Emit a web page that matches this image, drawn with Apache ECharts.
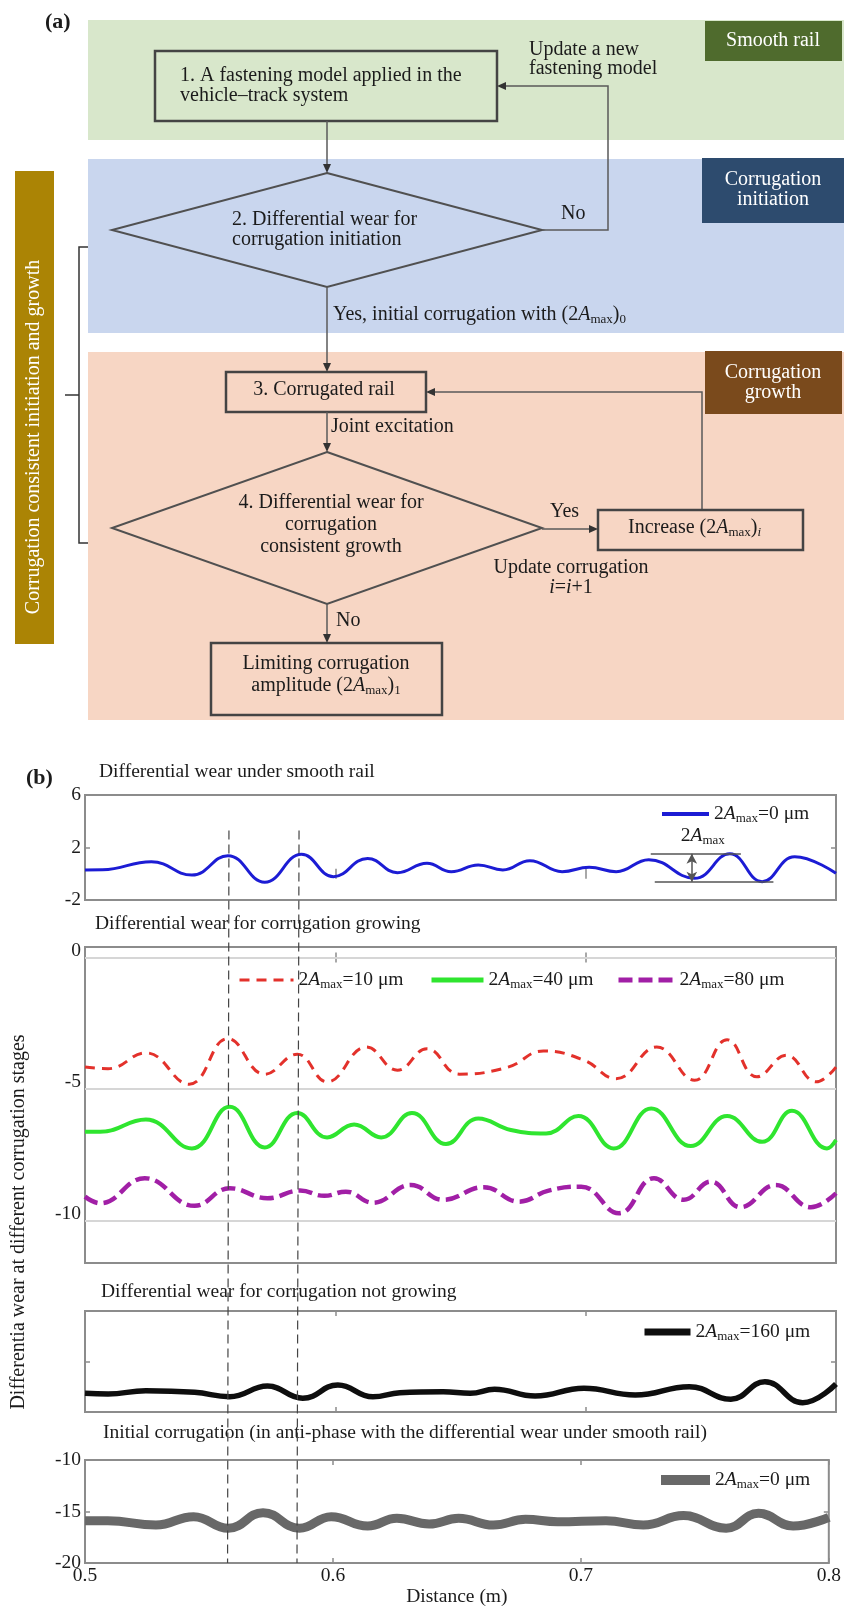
<!DOCTYPE html>
<html><head><meta charset="utf-8">
<script src="https://cdn.jsdelivr.net/npm/echarts@6/dist/echarts.min.js"></script>
<style>html,body{margin:0;padding:0;background:#fff}#c{width:844px;height:1610px}</style>
</head><body><div id="c"></div>
<script>
// ---------------- DATA ----------------
const xTicks = [0.5, 0.6, 0.7, 0.8];
const xTickLabels = ['0.5', '0.6', '0.7', '0.8'];
const y1Ticks = [-2, 2, 6];
const y1TickLabels = ['-2', '2', '6'];
const y2Ticks = [-10, -5, 0];
const y2TickLabels = ['-10', '-5', '0'];
const y3Ticks = [-15];
const y4Ticks = [-20, -15, -10];
const y4TickLabels = ['-20', '-15', '-10'];
const dashX = [0.5575, 0.5855];

const smoothX = [0.500,0.507,0.5265,0.5427,0.5571,0.5718,0.5865,0.5993,0.6129,0.6248,0.6366,0.6463,0.6571,0.6669,0.6777,0.6906,0.7014,0.7122,0.7252,0.7435,0.7576,0.7705,0.7835,0.800];
const smoothY = [0.29,0.30,0.92,-0.10,1.38,-0.65,1.48,-0.22,1.17,0.08,0.80,0.16,0.67,0.29,1.00,0.16,0.49,0.16,1.07,-0.35,1.52,-0.60,1.30,0.03];

const red10X = [0.500,0.5092,0.5243,0.5416,0.5571,0.5718,0.5848,0.5967,0.6124,0.6248,0.6366,0.6496,0.6690,0.6831,0.6993,0.7122,0.7284,0.7435,0.7565,0.7684,0.7802,0.7921,0.800];
const red10Y = [-4.16,-4.22,-3.62,-4.81,-3.08,-4.43,-3.67,-4.72,-3.40,-4.28,-3.46,-4.43,-4.16,-3.55,-3.90,-4.60,-3.40,-4.66,-3.12,-4.53,-3.71,-4.72,-4.16];

const green40X = [0.500,0.506,0.5243,0.5427,0.5578,0.5718,0.5848,0.5967,0.6075,0.6183,0.6306,0.6442,0.6571,0.6701,0.6842,0.6971,0.7112,0.7262,0.7420,0.7565,0.7705,0.7824,0.7964,0.800];
const green40Y = [-6.62,-6.62,-6.15,-7.25,-5.67,-7.21,-5.90,-6.83,-6.34,-6.83,-5.90,-7.08,-6.11,-6.55,-6.68,-6.02,-7.25,-5.73,-7.16,-6.02,-7.00,-5.82,-7.25,-6.93];

const purple80X = [0.500,0.506,0.5239,0.5438,0.5578,0.5729,0.5859,0.5956,0.6042,0.6150,0.6302,0.6431,0.6593,0.6734,0.6852,0.6982,0.7133,0.7273,0.7392,0.7500,0.7619,0.7759,0.7900,0.800];
const purple80Y = [-9.08,-9.33,-8.38,-9.43,-8.76,-9.14,-8.85,-9.05,-8.89,-9.31,-8.64,-9.20,-8.72,-9.27,-8.85,-8.70,-9.71,-8.38,-9.20,-8.51,-9.48,-8.64,-9.48,-8.95];

const black160X = [0.500,0.5092,0.5243,0.5438,0.5578,0.5729,0.5870,0.6010,0.6150,0.6258,0.6431,0.6539,0.6636,0.6798,0.6993,0.7198,0.7414,0.7580,0.7716,0.7867,0.800];
const black160Y = [-18.15,-18.22,-17.89,-18.05,-18.49,-17.43,-18.64,-17.33,-18.49,-18.09,-17.99,-18.15,-17.75,-18.42,-17.65,-18.32,-17.49,-18.74,-17.00,-19.08,-17.23];

const init0X = [0.500,0.5092,0.5286,0.5438,0.5578,0.5718,0.5865,0.5993,0.6140,0.6258,0.6388,0.6507,0.6647,0.6777,0.6906,0.7101,0.7252,0.7414,0.7586,0.7716,0.7856,0.800];
const init0Y = [-15.89,-15.89,-16.31,-15.50,-16.63,-15.11,-16.63,-15.50,-16.41,-15.66,-16.21,-15.66,-16.31,-15.76,-15.99,-15.89,-16.31,-15.40,-16.63,-15.17,-16.41,-15.56];

// amplitude annotation (data coordinates)
const ampTop = 1.52, ampBottom = -0.60, ampX = 0.7424;
const ampTopSpan = [0.7260, 0.7620];
const ampBottomSpan = [0.7276, 0.7750];

// ---------------- HELPERS ----------------
const F = "'Liberation Serif','Times New Roman',serif";
const INK = '#1b1b1b';
const FS = 20;
const zip = (xs, ys) => xs.map((x, i) => [x, ys[i]]);
function R(fs, extra) { return Object.assign({fontSize: fs, fontFamily: F, fill: INK, color: INK}, extra || {}); }
const RICH = {
  n: R(FS), i: R(FS, {fontStyle: 'italic'}),
  s: R(13, {padding: [9, 0, 0, 0]}), si: R(13, {fontStyle: 'italic', padding: [9, 0, 0, 0]})
};
const AMP = '{n|2}{i|A}{s|max}';
function T(x, y, text, o) {
  return {type: 'text', x: x, y: y, z: 20,
    style: Object.assign({text: text, fontSize: FS, fontFamily: F, fill: INK, align: 'left', verticalAlign: 'middle'}, o || {})};
}
function TR(x, y, text, o) { return T(x, y, text, Object.assign({rich: RICH}, o || {})); }
function rect(x, y, w, h, fill, stroke, lw, z) {
  return {type: 'rect', z: z || 5, shape: {x: x, y: y, width: w, height: h},
    style: {fill: fill || null, stroke: stroke || null, lineWidth: lw || 0}};
}
function pl(points, stroke, lw) {
  return {type: 'polyline', z: 8, shape: {points: points}, style: {stroke: stroke || '#5a5a5a', lineWidth: lw || 1.5, fill: null}};
}
function diamond(cx, cy, hw, hh) {
  return {type: 'polygon', z: 8, shape: {points: [[cx, cy - hh], [cx + hw, cy], [cx, cy + hh], [cx - hw, cy]]},
    style: {fill: null, stroke: '#505050', lineWidth: 2}};
}
function arrow(x, y, dir) {
  let p;
  if (dir === 'down') p = [[x, y], [x - 4, y - 9], [x + 4, y - 9]];
  else if (dir === 'left') p = [[x, y], [x + 9, y - 4], [x + 9, y + 4]];
  else p = [[x, y], [x - 9, y - 4], [x - 9, y + 4]];
  return {type: 'polygon', z: 9, shape: {points: p}, style: {fill: '#333'}};
}
const TT = {fontSize: 19.5};

// ---------------- FLOWCHART (panel a) ----------------
const G = [
  T(45, 22, '(a)', {fontWeight: 'bold', fontSize: 22}),
  // bands
  rect(88, 20, 756, 120, '#d8e7cb', null, 0, 1),
  rect(88, 159, 756, 174, '#c9d6ee', null, 0, 1),
  rect(88, 352, 756, 368, '#f7d6c4', null, 0, 1),
  // side labels
  rect(705, 21, 137, 40, '#4f6b2d', null, 0, 3),
  T(773, 41, 'Smooth rail', {fill: '#fff', align: 'center'}),
  rect(702, 158, 142, 65, '#2d4b6e', null, 0, 3),
  T(773, 180, 'Corrugation', {fill: '#fff', align: 'center'}),
  T(773, 200, 'initiation', {fill: '#fff', align: 'center'}),
  rect(705, 351, 137, 63, '#7a4a1c', null, 0, 3),
  T(773, 373, 'Corrugation', {fill: '#fff', align: 'center'}),
  T(773, 393, 'growth', {fill: '#fff', align: 'center'}),
  rect(15, 171, 39, 473, '#ab8405', null, 0, 3),
  {type: 'text', x: 34, y: 437, rotation: Math.PI / 2, z: 20,
    style: {text: 'Corrugation consistent initiation and growth', fontSize: 20, fontFamily: F, fill: '#fff', align: 'center', verticalAlign: 'middle'}},
  // bracket
  pl([[88, 247], [79, 247], [79, 543], [88, 543]], '#333', 1.5),
  pl([[79, 395], [65, 395]], '#333', 1.5),
  // box 1
  rect(155, 51, 342, 70, null, '#444', 2.5, 8),
  T(180, 76, '1. A fastening model applied in the'),
  T(180, 96, 'vehicle\u2013track system'),
  T(529, 50, 'Update a new'),
  T(529, 69, 'fastening model'),
  pl([[327, 121], [327, 168]]), arrow(327, 173, 'down'),
  // diamond 2
  diamond(327, 230, 215, 57),
  T(232, 220, '2. Differential wear for'),
  T(232, 240, 'corrugation initiation'),
  T(561, 214, 'No'),
  pl([[542, 230], [608, 230], [608, 86], [502, 86]]), arrow(497, 86, 'left'),
  pl([[327, 287], [327, 367]]), arrow(327, 372, 'down'),
  TR(333, 315, '{n|Yes, initial corrugation with (2}{i|A}{s|max}{n|)}{s|0}'),
  // box 3
  rect(226, 372, 200, 40, null, '#444', 2.5, 8),
  T(324, 390, '3. Corrugated rail', {align: 'center'}),
  pl([[702, 510], [702, 392], [431, 392]]), arrow(426, 392, 'left'),
  T(331, 427, 'Joint excitation'),
  pl([[327, 412], [327, 447]]), arrow(327, 452, 'down'),
  // diamond 4
  diamond(327, 528, 215, 76),
  T(331, 503, '4. Differential wear for', {align: 'center'}),
  T(331, 525, 'corrugation', {align: 'center'}),
  T(331, 547, 'consistent growth', {align: 'center'}),
  T(550, 512, 'Yes'),
  pl([[542, 529], [593, 529]]), arrow(598, 529, 'right'),
  rect(598, 510, 205, 40, null, '#444', 2.5, 8),
  TR(628, 528, '{n|Increase (2}{i|A}{s|max}{n|)}{si|i}'),
  T(571, 568, 'Update corrugation', {align: 'center'}),
  TR(571, 588, '{i|i}{n|=}{i|i}{n|+1}', {align: 'center'}),
  T(336, 621, 'No'),
  pl([[327, 604], [327, 638]]), arrow(327, 643, 'down'),
  rect(211, 643, 231, 72, null, '#444', 2.5, 8),
  T(326, 664, 'Limiting corrugation', {align: 'center'}),
  TR(326, 686, '{n|amplitude (2}{i|A}{s|max}{n|)}{s|1}', {align: 'center'}),
  // panel b texts
  T(26, 778, '(b)', {fontWeight: 'bold', fontSize: 22}),
  T(99, 772, 'Differential wear under smooth rail', TT),
  T(95, 924, 'Differential wear for corrugation growing', TT),
  T(101, 1292, 'Differential wear for corrugation not growing', TT),
  T(103, 1433, 'Initial corrugation (in anti-phase with the differential wear under smooth rail)', TT),
  {type: 'text', x: 19, y: 1222, rotation: Math.PI / 2, z: 20,
    style: {text: 'Differentia wear at different corrugation stages', fontSize: 20, fontFamily: F, fill: INK, align: 'center', verticalAlign: 'middle'}}
];

// ---------------- CHART (panel b) ----------------
const grids = [
  {left: 85, right: 8, top: 795, height: 105},
  {left: 85, right: 8, top: 947, height: 316},
  {left: 85, right: 8, top: 1311, height: 101},
  {left: 85, right: 8, top: 1460, height: 103}
].map(g => Object.assign(g, {show: true, borderColor: '#8c8c8c', borderWidth: 2, backgroundColor: 'transparent'}));

const yRanges = [[-2, 6], [-11.6, 0.4], [-20, -10], [-20, -10]];
const yTickSets = [y1Ticks, y2Ticks, y3Ticks, y4Ticks];
const yLabelSets = [y1TickLabels, y2TickLabels, null, y4TickLabels];

const tickStyle = {show: true, inside: true, length: 5, lineStyle: {color: '#8c8c8c', width: 1.5}};
const labelFont = {fontSize: 19.5, fontFamily: F, color: INK};

const xAxes = [], yAxes = [];
for (let g = 0; g < 4; g++) {
  xAxes.push({
    type: 'value', gridIndex: g, min: 0.5, max: 0.8, position: 'bottom',
    axisLine: {show: false}, splitLine: {show: false},
    axisTick: Object.assign({customValues: xTicks}, tickStyle),
    axisLabel: Object.assign({show: g === 3, margin: 3, customValues: xTicks,
      formatter: (v) => xTickLabels[xTicks.findIndex(t => Math.abs(t - v) < 1e-6)]}, labelFont),
    name: g === 3 ? 'Distance (m)' : '', nameLocation: 'middle', nameGap: 18,
    nameTextStyle: {fontSize: 19.5, fontFamily: F, color: INK}
  });
  xAxes.push({
    type: 'value', gridIndex: g, min: 0.5, max: 0.8, position: 'top',
    axisLine: {show: false}, splitLine: {show: false},
    axisTick: Object.assign({customValues: xTicks}, tickStyle),
    axisLabel: {show: false}
  });
  const labs = yLabelSets[g];
  const lab = Object.assign({show: !!labs, margin: 4, customValues: yTickSets[g],
      formatter: (v) => labs ? labs[yTickSets[g].findIndex(t => Math.abs(t - v) < 1e-6)] : ''}, labelFont);
  if (g === 1) { lab.verticalAlign = 'bottom'; lab.lineHeight = 14; }
  yAxes.push({
    type: 'value', gridIndex: g, min: yRanges[g][0], max: yRanges[g][1], position: 'left',
    axisLine: {show: false}, splitLine: {show: false},
    axisTick: Object.assign({customValues: yTickSets[g]}, tickStyle),
    axisLabel: lab
  });
  yAxes.push({
    type: 'value', gridIndex: g, min: yRanges[g][0], max: yRanges[g][1], position: 'right',
    axisLine: {show: false}, splitLine: {show: false},
    axisTick: Object.assign({customValues: yTickSets[g]}, tickStyle),
    axisLabel: {show: false}
  });
}

const legendRich = {
  n: {fontSize: 19.5, fontFamily: F, color: INK},
  i: {fontSize: 19.5, fontFamily: F, color: INK, fontStyle: 'italic'},
  s: {fontSize: 13, fontFamily: F, color: INK, padding: [9, 0, 0, 0]}
};
const legendNames = {
  s0: '{n|2}{i|A}{s|max}{n|=0 \u03bcm}',
  r10: '{n|2}{i|A}{s|max}{n|=10 \u03bcm}',
  g40: '{n|2}{i|A}{s|max}{n|=40 \u03bcm}',
  p80: '{n|2}{i|A}{s|max}{n|=80 \u03bcm}',
  b160: '{n|2}{i|A}{s|max}{n|=160 \u03bcm}',
  i0: '{n|2}{i|A}{s|max}{n|=0 \u03bcm}'
};
function legend(name, left, top, w, lw) {
  return {data: [name], left: left, top: top, itemWidth: w, itemHeight: 14, itemGap: 10,
    orient: 'horizontal', selectedMode: false, padding: 0,
    lineStyle: {width: lw},
    itemStyle: {opacity: 0, color: 'rgba(0,0,0,0)', borderWidth: 0},
    formatter: (n) => legendNames[n], textStyle: {rich: legendRich, fontSize: 19.5, fontFamily: F, color: INK}};
}

function line(name, xi, xs, ys, color, width, type, extra) {
  return Object.assign({
    name: name, type: 'line', xAxisIndex: xi, yAxisIndex: xi, data: zip(xs, ys),
    smooth: 0.45, symbol: 'none', showSymbol: false, silent: true, animation: false,
    lineStyle: {color: color, width: width, type: type || 'solid', cap: 'butt'},
    itemStyle: {color: color}, z: 3
  }, extra || {});
}

const option = {
  backgroundColor: '#fff',
  animation: false,
  grid: grids,
  xAxis: xAxes,
  yAxis: yAxes,
  legend: [
    legend('s0', 660, 804, 47, 4),
    legend('r10', 238, 970, 54, 3),
    legend('g40', 429, 970, 52, 5),
    legend('p80', 616, 970, 56, 5),
    legend('b160', 641, 1322, 46, 7),
    legend('i0', 656, 1470, 49, 10)
  ],
  series: [
    line('s0', 0, smoothX, smoothY, '#1c1cd4', 3, 'solid', {
      markLine: {silent: true, symbol: ['none', 'none'], label: {show: false}, animation: false,
        lineStyle: {color: '#555', width: 1.5, type: 'solid'},
        data: [
          [{coord: [ampTopSpan[0], ampTop]}, {coord: [ampTopSpan[1], ampTop]}],
          [{coord: [ampBottomSpan[0], ampBottom]}, {coord: [ampBottomSpan[1], ampBottom]}],
          [{coord: [ampX, ampTop], symbol: 'arrow', symbolSize: [8, 10]}, {coord: [ampX, ampBottom], symbol: 'arrow', symbolSize: [8, 10]}]
        ]},
      markPoint: {silent: true, animation: false, symbol: 'rect', symbolSize: 1, itemStyle: {color: 'rgba(0,0,0,0)'},
        label: {show: true, position: 'inside', formatter: AMP, rich: legendRich},
        data: [{coord: [0.7468, 2.85]}]}
    }),
    line('r10', 2, red10X, red10Y, '#e3312b', 3, [10, 7], {
      markLine: {silent: true, symbol: ['none', 'none'], label: {show: false}, animation: false, z: 1,
        lineStyle: {color: '#d6d6d6', width: 2, type: 'solid'},
        data: y2Ticks.map(v => ({yAxis: v}))}
    }),
    line('g40', 2, green40X, green40Y, '#2fe52f', 4),
    line('p80', 2, purple80X, purple80Y, '#a11fa6', 4.5, [14, 6]),
    line('b160', 4, black160X, black160Y, '#0e0e0e', 5.5),
    line('i0', 6, init0X, init0Y, '#686868', 9)
  ],
  graphic: G
};

const chart = echarts.init(document.getElementById('c'), null, {renderer: 'canvas'});
chart.setOption(option);
const dashLines = dashX.map(x => {
  const p1 = chart.convertToPixel({xAxisIndex: 0, yAxisIndex: 0}, [x, 3.3]);
  const p2 = chart.convertToPixel({xAxisIndex: 6, yAxisIndex: 6}, [x, -20]);
  return {type: 'line', z: 100, shape: {x1: p1[0], y1: p1[1], x2: p2[0], y2: p2[1]},
    style: {stroke: '#444', lineWidth: 1.2, lineDash: [9, 5]}};
});
chart.setOption({graphic: G.concat(dashLines)});
</script></body></html>
